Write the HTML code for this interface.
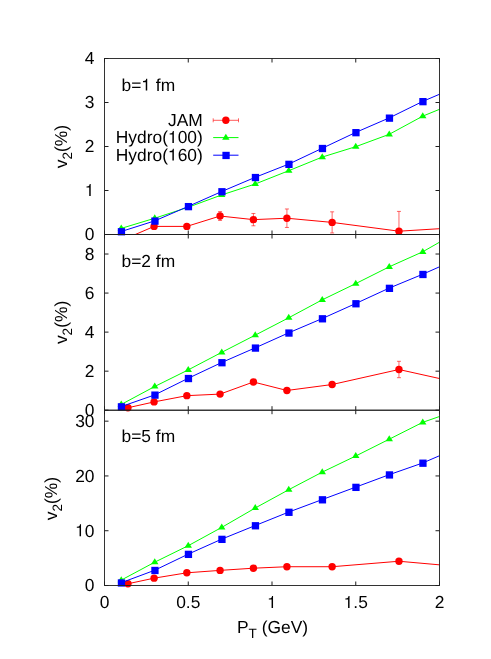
<!DOCTYPE html>
<html><head><meta charset="utf-8"><title>v2 vs PT</title>
<style>
html,body{margin:0;padding:0;background:#fff;}
svg{display:block;will-change:transform;}
text{font-family:"Liberation Sans",sans-serif;font-size:17.4px;fill:#000;text-rendering:geometricPrecision;}
</style></head><body>
<svg width="491" height="659" viewBox="0 0 491 659">
<rect x="0" y="0" width="491" height="659" fill="#fff"/>
<defs>
<clipPath id="c0"><rect x="104.5" y="58.5" width="335" height="176"/></clipPath>
<clipPath id="c1"><rect x="104.5" y="234.5" width="335" height="175.7"/></clipPath>
<clipPath id="c2"><rect x="104.5" y="410.2" width="335" height="175.3"/></clipPath>
</defs>
<g clip-path="url(#c0)">
<path d="M127.95 236.35V238.99M125.95 236.35h4M125.95 238.99h4" stroke="#f00" stroke-width="0.6" fill="none"/>
<path d="M154.08 225.08V227.72M152.08 225.08h4M152.08 227.72h4" stroke="#f00" stroke-width="0.6" fill="none"/>
<path d="M186.83 224.64V228.16M184.83 224.64h4M184.83 228.16h4" stroke="#f00" stroke-width="0.6" fill="none"/>
<path d="M220.07 211.62V220.42M218.07 211.62h4M218.07 220.42h4" stroke="#f00" stroke-width="0.6" fill="none"/>
<path d="M253.41 213.47V225.79M251.41 213.47h4M251.41 225.79h4" stroke="#f00" stroke-width="0.6" fill="none"/>
<path d="M286.91 208.98V227.46M284.91 208.98h4M284.91 227.46h4" stroke="#f00" stroke-width="0.6" fill="none"/>
<path d="M332.13 211.84V232.96M330.13 211.84h4M330.13 232.96h4" stroke="#f00" stroke-width="0.6" fill="none"/>
<path d="M398.96 211.40V251.00M396.96 211.40h4M396.96 251.00h4" stroke="#f00" stroke-width="0.6" fill="none"/>
<path d="M481.38 204.14V248.14M479.38 204.14h4M479.38 248.14h4" stroke="#f00" stroke-width="0.6" fill="none"/>
<polyline points="127.95,237.67 154.08,226.40 186.83,226.40 220.07,216.02 253.41,219.63 286.91,218.22 332.13,222.40 398.96,231.20 481.38,226.14" fill="none" stroke="#f00" stroke-width="1"/>
</g>
<circle cx="154.08" cy="226.40" r="3.7" fill="#f00"/>
<circle cx="186.83" cy="226.40" r="3.7" fill="#f00"/>
<circle cx="220.07" cy="216.02" r="3.7" fill="#f00"/>
<circle cx="253.41" cy="219.63" r="3.7" fill="#f00"/>
<circle cx="286.91" cy="218.22" r="3.7" fill="#f00"/>
<circle cx="332.13" cy="222.40" r="3.7" fill="#f00"/>
<circle cx="398.96" cy="231.20" r="3.7" fill="#f00"/>
<g clip-path="url(#c0)">
<polyline points="121.25,228.38 154.75,218.22 188.25,207.22 221.75,194.90 255.25,183.99 288.75,170.70 322.25,157.06 355.75,146.68 389.25,134.31 422.75,116.14 456.25,102.50" fill="none" stroke="#0f0" stroke-width="1"/>
</g>
<path d="M121.25 224.48L124.95 230.48L117.55 230.48Z" fill="#0f0"/>
<path d="M154.75 214.32L158.45 220.32L151.05 220.32Z" fill="#0f0"/>
<path d="M188.25 203.32L191.95 209.32L184.55 209.32Z" fill="#0f0"/>
<path d="M221.75 191.00L225.45 197.00L218.05 197.00Z" fill="#0f0"/>
<path d="M255.25 180.09L258.95 186.09L251.55 186.09Z" fill="#0f0"/>
<path d="M288.75 166.80L292.45 172.80L285.05 172.80Z" fill="#0f0"/>
<path d="M322.25 153.16L325.95 159.16L318.55 159.16Z" fill="#0f0"/>
<path d="M355.75 142.78L359.45 148.78L352.05 148.78Z" fill="#0f0"/>
<path d="M389.25 130.41L392.95 136.41L385.55 136.41Z" fill="#0f0"/>
<path d="M422.75 112.24L426.45 118.24L419.05 118.24Z" fill="#0f0"/>
<g clip-path="url(#c0)">
<polyline points="121.25,231.51 154.75,220.86 188.25,206.38 221.75,191.51 255.25,177.30 288.75,164.10 322.25,148.26 355.75,132.42 389.25,117.90 422.75,101.40 456.25,87.10" fill="none" stroke="#00f" stroke-width="1"/>
</g>
<rect x="117.80" y="228.11" width="7.3" height="7.3" fill="#00f"/>
<rect x="151.30" y="217.46" width="7.3" height="7.3" fill="#00f"/>
<rect x="184.80" y="202.98" width="7.3" height="7.3" fill="#00f"/>
<rect x="218.30" y="188.11" width="7.3" height="7.3" fill="#00f"/>
<rect x="251.80" y="173.90" width="7.3" height="7.3" fill="#00f"/>
<rect x="285.30" y="160.70" width="7.3" height="7.3" fill="#00f"/>
<rect x="318.80" y="144.86" width="7.3" height="7.3" fill="#00f"/>
<rect x="352.30" y="129.02" width="7.3" height="7.3" fill="#00f"/>
<rect x="385.80" y="114.50" width="7.3" height="7.3" fill="#00f"/>
<rect x="419.30" y="98.00" width="7.3" height="7.3" fill="#00f"/>
<rect x="104.5" y="58.5" width="335" height="176" fill="none" stroke="#1e1e1e" stroke-width="0.9"/>
<path d="M104.5 234.50h4M439.5 234.50h-4M104.5 190.50h4M439.5 190.50h-4M104.5 146.50h4M439.5 146.50h-4M104.5 102.50h4M439.5 102.50h-4M104.5 58.50h4M439.5 58.50h-4M104.50 234.5v-4M104.50 58.5v4M188.25 234.5v-4M188.25 58.5v4M272.00 234.5v-4M272.00 58.5v4M355.75 234.5v-4M355.75 58.5v4M439.50 234.5v-4M439.50 58.5v4" stroke="#1e1e1e" stroke-width="1" fill="none"/>
<text x="84.82" y="240.30">0</text>
<path d="M90.70 195.99L90.70 184.12L89.73 184.12L89.28 185.60L88.34 186.24L86.49 186.50L86.49 187.55L89.24 187.55L89.24 195.99Z" fill="#000"/>
<text x="84.82" y="152.30">2</text>
<text x="84.82" y="108.30">3</text>
<text x="84.82" y="64.30">4</text>
<text x="121.50" y="90.90">b=</text>
<path d="M147.22 90.59L147.22 78.72L146.25 78.72L145.79 80.20L144.85 80.84L143.01 81.10L143.01 82.15L145.76 82.15L145.76 90.59Z" fill="#000"/>
<text x="151.02" y="90.90">&#160;fm</text>
<text transform="translate(67 146.60) rotate(-90)" text-anchor="middle">v<tspan dy="5" font-size="13.6px">2</tspan><tspan dy="-5">(%)</tspan></text>
<g clip-path="url(#c1)">
<path d="M253.41 380.43V383.55M251.41 380.43h4M251.41 383.55h4" stroke="#f00" stroke-width="0.6" fill="none"/>
<path d="M286.91 388.53V392.44M284.91 388.53h4M284.91 392.44h4" stroke="#f00" stroke-width="0.6" fill="none"/>
<path d="M332.13 382.58V386.48M330.13 382.58h4M330.13 386.48h4" stroke="#f00" stroke-width="0.6" fill="none"/>
<path d="M398.96 361.30V377.70M396.96 361.30h4M396.96 377.70h4" stroke="#f00" stroke-width="0.6" fill="none"/>
<path d="M481.38 378.09V397.61M479.38 378.09h4M479.38 397.61h4" stroke="#f00" stroke-width="0.6" fill="none"/>
<polyline points="127.95,407.76 154.08,401.91 186.83,395.66 220.07,394.10 253.41,381.99 286.91,390.48 332.13,384.53 398.96,369.50 481.38,387.85" fill="none" stroke="#f00" stroke-width="1"/>
</g>
<circle cx="127.95" cy="407.76" r="3.7" fill="#f00"/>
<circle cx="154.08" cy="401.91" r="3.7" fill="#f00"/>
<circle cx="186.83" cy="395.66" r="3.7" fill="#f00"/>
<circle cx="220.07" cy="394.10" r="3.7" fill="#f00"/>
<circle cx="253.41" cy="381.99" r="3.7" fill="#f00"/>
<circle cx="286.91" cy="390.48" r="3.7" fill="#f00"/>
<circle cx="332.13" cy="384.53" r="3.7" fill="#f00"/>
<circle cx="398.96" cy="369.50" r="3.7" fill="#f00"/>
<g clip-path="url(#c1)">
<polyline points="121.25,404.44 154.75,386.48 188.25,369.89 221.75,352.32 255.25,335.14 288.75,317.76 322.25,299.80 355.75,283.60 389.25,266.81 422.75,251.78 456.25,232.65" fill="none" stroke="#0f0" stroke-width="1"/>
</g>
<path d="M121.25 400.54L124.95 406.54L117.55 406.54Z" fill="#0f0"/>
<path d="M154.75 382.58L158.45 388.58L151.05 388.58Z" fill="#0f0"/>
<path d="M188.25 365.99L191.95 371.99L184.55 371.99Z" fill="#0f0"/>
<path d="M221.75 348.42L225.45 354.42L218.05 354.42Z" fill="#0f0"/>
<path d="M255.25 331.24L258.95 337.24L251.55 337.24Z" fill="#0f0"/>
<path d="M288.75 313.86L292.45 319.86L285.05 319.86Z" fill="#0f0"/>
<path d="M322.25 295.90L325.95 301.90L318.55 301.90Z" fill="#0f0"/>
<path d="M355.75 279.70L359.45 285.70L352.05 285.70Z" fill="#0f0"/>
<path d="M389.25 262.91L392.95 268.91L385.55 268.91Z" fill="#0f0"/>
<path d="M422.75 247.88L426.45 253.88L419.05 253.88Z" fill="#0f0"/>
<g clip-path="url(#c1)">
<polyline points="121.25,406.59 154.75,394.88 188.25,378.28 221.75,362.47 255.25,347.83 288.75,332.80 322.25,318.55 355.75,303.51 389.25,288.09 422.75,274.23 456.25,259.39" fill="none" stroke="#00f" stroke-width="1"/>
</g>
<rect x="117.80" y="403.19" width="7.3" height="7.3" fill="#00f"/>
<rect x="151.30" y="391.48" width="7.3" height="7.3" fill="#00f"/>
<rect x="184.80" y="374.88" width="7.3" height="7.3" fill="#00f"/>
<rect x="218.30" y="359.07" width="7.3" height="7.3" fill="#00f"/>
<rect x="251.80" y="344.43" width="7.3" height="7.3" fill="#00f"/>
<rect x="285.30" y="329.40" width="7.3" height="7.3" fill="#00f"/>
<rect x="318.80" y="315.15" width="7.3" height="7.3" fill="#00f"/>
<rect x="352.30" y="300.11" width="7.3" height="7.3" fill="#00f"/>
<rect x="385.80" y="284.69" width="7.3" height="7.3" fill="#00f"/>
<rect x="419.30" y="270.83" width="7.3" height="7.3" fill="#00f"/>
<rect x="104.5" y="234.5" width="335" height="175.7" fill="none" stroke="#1e1e1e" stroke-width="0.9"/>
<path d="M104.5 410.20h4M439.5 410.20h-4M104.5 371.16h4M439.5 371.16h-4M104.5 332.11h4M439.5 332.11h-4M104.5 293.07h4M439.5 293.07h-4M104.5 254.02h4M439.5 254.02h-4M104.50 410.2v-4M104.50 234.5v4M188.25 410.2v-4M188.25 234.5v4M272.00 410.2v-4M272.00 234.5v4M355.75 410.2v-4M355.75 234.5v4M439.50 410.2v-4M439.50 234.5v4" stroke="#1e1e1e" stroke-width="1" fill="none"/>
<text x="84.82" y="416.00">0</text>
<text x="84.82" y="376.96">2</text>
<text x="84.82" y="337.91">4</text>
<text x="84.82" y="298.87">6</text>
<text x="84.82" y="259.82">8</text>
<text x="121.50" y="266.60">b=2&#160;fm</text>
<text transform="translate(67 322.45) rotate(-90)" text-anchor="middle">v<tspan dy="5" font-size="13.6px">2</tspan><tspan dy="-5">(%)</tspan></text>
<g clip-path="url(#c2)">
<polyline points="127.95,583.75 154.08,578.17 186.83,572.80 220.07,570.39 253.41,568.20 286.91,566.72 332.13,566.72 398.96,561.24 481.38,568.58" fill="none" stroke="#f00" stroke-width="1"/>
</g>
<circle cx="127.95" cy="583.75" r="3.7" fill="#f00"/>
<circle cx="154.08" cy="578.17" r="3.7" fill="#f00"/>
<circle cx="186.83" cy="572.80" r="3.7" fill="#f00"/>
<circle cx="220.07" cy="570.39" r="3.7" fill="#f00"/>
<circle cx="253.41" cy="568.20" r="3.7" fill="#f00"/>
<circle cx="286.91" cy="566.72" r="3.7" fill="#f00"/>
<circle cx="332.13" cy="566.72" r="3.7" fill="#f00"/>
<circle cx="398.96" cy="561.24" r="3.7" fill="#f00"/>
<g clip-path="url(#c2)">
<polyline points="121.25,580.08 154.75,562.17 188.25,545.68 221.75,527.38 255.25,507.99 288.75,489.69 322.25,472.11 355.75,456.00 389.25,439.19 422.75,422.31 456.25,410.70" fill="none" stroke="#0f0" stroke-width="1"/>
</g>
<path d="M121.25 576.18L124.95 582.18L117.55 582.18Z" fill="#0f0"/>
<path d="M154.75 558.27L158.45 564.27L151.05 564.27Z" fill="#0f0"/>
<path d="M188.25 541.78L191.95 547.78L184.55 547.78Z" fill="#0f0"/>
<path d="M221.75 523.48L225.45 529.48L218.05 529.48Z" fill="#0f0"/>
<path d="M255.25 504.09L258.95 510.09L251.55 510.09Z" fill="#0f0"/>
<path d="M288.75 485.79L292.45 491.79L285.05 491.79Z" fill="#0f0"/>
<path d="M322.25 468.21L325.95 474.21L318.55 474.21Z" fill="#0f0"/>
<path d="M355.75 452.10L359.45 458.10L352.05 458.10Z" fill="#0f0"/>
<path d="M389.25 435.29L392.95 441.29L385.55 441.29Z" fill="#0f0"/>
<path d="M422.75 418.41L426.45 424.41L419.05 424.41Z" fill="#0f0"/>
<g clip-path="url(#c2)">
<polyline points="121.25,582.71 154.75,570.22 188.25,554.12 221.75,539.11 255.25,525.52 288.75,512.05 322.25,499.56 355.75,487.12 389.25,474.68 422.75,462.96 456.25,448.50" fill="none" stroke="#00f" stroke-width="1"/>
</g>
<rect x="117.80" y="579.31" width="7.3" height="7.3" fill="#00f"/>
<rect x="151.30" y="566.82" width="7.3" height="7.3" fill="#00f"/>
<rect x="184.80" y="550.72" width="7.3" height="7.3" fill="#00f"/>
<rect x="218.30" y="535.71" width="7.3" height="7.3" fill="#00f"/>
<rect x="251.80" y="522.12" width="7.3" height="7.3" fill="#00f"/>
<rect x="285.30" y="508.65" width="7.3" height="7.3" fill="#00f"/>
<rect x="318.80" y="496.16" width="7.3" height="7.3" fill="#00f"/>
<rect x="352.30" y="483.72" width="7.3" height="7.3" fill="#00f"/>
<rect x="385.80" y="471.28" width="7.3" height="7.3" fill="#00f"/>
<rect x="419.30" y="459.56" width="7.3" height="7.3" fill="#00f"/>
<rect x="104.5" y="410.2" width="335" height="175.3" fill="none" stroke="#1e1e1e" stroke-width="0.9"/>
<path d="M104.5 585.50h4M439.5 585.50h-4M104.5 530.72h4M439.5 530.72h-4M104.5 475.94h4M439.5 475.94h-4M104.5 421.16h4M439.5 421.16h-4M104.50 585.5v-4M104.50 410.2v4M188.25 585.5v-4M188.25 410.2v4M272.00 585.5v-4M272.00 410.2v4M355.75 585.5v-4M355.75 410.2v4M439.50 585.5v-4M439.50 410.2v4" stroke="#1e1e1e" stroke-width="1" fill="none"/>
<text x="84.82" y="591.30">0</text>
<path d="M81.03 536.21L81.03 524.34L80.05 524.34L79.60 525.82L78.66 526.46L76.82 526.72L76.82 527.77L79.57 527.77L79.57 536.21Z" fill="#000"/>
<text x="84.82" y="536.52">0</text>
<text x="75.15" y="481.74">20</text>
<text x="75.15" y="426.96">30</text>
<text x="121.50" y="441.90">b=5&#160;fm</text>
<text transform="translate(57 498.65) rotate(-90)" text-anchor="middle">v<tspan dy="5" font-size="13.6px">2</tspan><tspan dy="-5">(%)</tspan></text>
<text x="99.66" y="608.30">0</text>
<text x="176.16" y="608.30">0.5</text>
<path d="M273.04 607.99L273.04 596.12L272.07 596.12L271.62 597.60L270.68 598.24L268.83 598.50L268.83 599.55L271.58 599.55L271.58 607.99Z" fill="#000"/>
<path d="M349.54 607.99L349.54 596.12L348.56 596.12L348.11 597.60L347.17 598.24L345.33 598.50L345.33 599.55L348.08 599.55L348.08 607.99Z" fill="#000"/>
<text x="353.33" y="608.30">.5</text>
<text x="434.66" y="608.30">2</text>
<text x="272.5" y="633.3" text-anchor="middle">P<tspan dy="5" font-size="13.6px">T</tspan><tspan dy="-5"> (GeV)</tspan></text>
<text x="168.00" y="125.70">JAM</text>
<path d="M213.2 120.3H238.5" stroke="#f00" stroke-width="0.65" fill="none"/>
<path d="M213.2 118.3v4M238.5 118.3v4" stroke="#f00" stroke-width="0.6" fill="none"/>
<circle cx="225.85" cy="120.30" r="3.7" fill="#f00"/>
<text x="115.77" y="143.30">Hydro(</text>
<path d="M173.86 142.99L173.86 131.12L172.88 131.12L172.43 132.60L171.49 133.24L169.64 133.50L169.64 134.55L172.39 134.55L172.39 142.99Z" fill="#000"/>
<text x="177.65" y="143.30">00)</text>
<path d="M213.2 137.6H238.5" stroke="#0f0" stroke-width="1" fill="none"/>
<path d="M225.85 133.70L229.55 139.70L222.15 139.70Z" fill="#0f0"/>
<text x="115.77" y="160.90">Hydro(</text>
<path d="M173.86 160.59L173.86 148.72L172.88 148.72L172.43 150.20L171.49 150.84L169.64 151.10L169.64 152.15L172.39 152.15L172.39 160.59Z" fill="#000"/>
<text x="177.65" y="160.90">60)</text>
<path d="M213.2 155.2H238.5" stroke="#00f" stroke-width="1" fill="none"/>
<rect x="222.40" y="151.80" width="7.3" height="7.3" fill="#00f"/>
</svg>
</body></html>
